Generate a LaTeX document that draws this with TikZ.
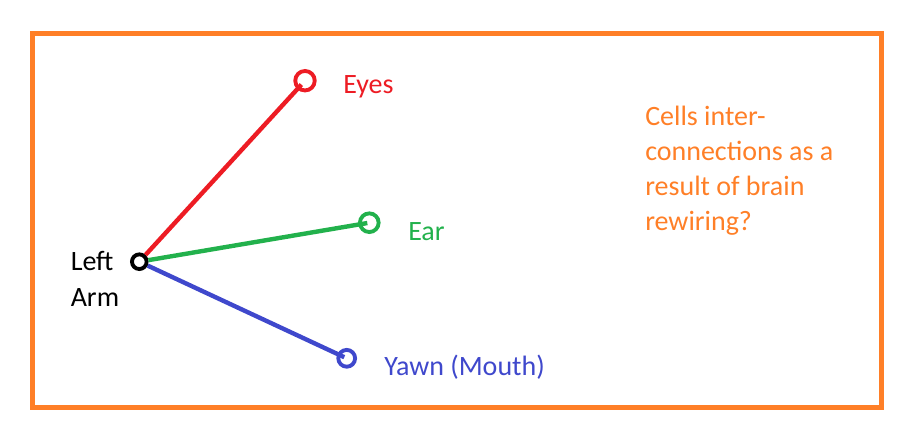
\documentclass[tikz,border=0pt]{standalone}
\usepackage{fontspec}
\setmainfont{Carlito}
\definecolor{frameor}{HTML}{FF7F27}
\definecolor{pred}{HTML}{ED1C24}
\definecolor{pgreen}{HTML}{22B14C}
\definecolor{pblue}{HTML}{3F48CC}
\tikzset{
  px/.style={x=0.75pt,y=-0.75pt},
  ring/.style={circle,draw,inner sep=0pt,line width=2.9pt},
  link/.style={line width=3.3pt},
  lbl/.style={inner sep=0pt,anchor=base west,font=\fontsize{21pt}{26pt}\selectfont},
}
\begin{document}
\begin{tikzpicture}[px]
\useasboundingbox (0,0) rectangle (910,436);
\node[draw=frameor,line width=3.75pt,inner sep=0pt,minimum width=849*0.75pt,minimum height=374.5*0.75pt,anchor=north west] (frame) at (29.5,30.5) {};
\node[ring,draw=pred,minimum size=14.6pt] (eyes) at (305,80.7) {};
\node[ring,draw=pgreen,minimum size=14pt] (ear) at (369.3,222.7) {};
\node[ring,draw=pblue,minimum size=12.6pt] (yawn) at (346.7,358.3) {};
\node[ring,draw=black,minimum size=11pt] (la) at (139.3,261.7) {};
\draw[link,pred,shorten >=4pt] (la) -- (eyes.center);
\draw[link,pgreen,shorten >=1.5pt] (la) -- (ear.center);
\draw[link,pblue,shorten >=2pt] (la) -- (yawn.center);
\node[lbl,text=pred] (teyes) at (343,93) {Eyes};
\node[lbl,text=pgreen] (tear) at (408,240.7) {Ear};
\node[lbl,text=pblue] (tyawn) at (384,375) {Yawn (Mouth)};
\node[lbl,text=black] (tla) at (70.5,270) {\parbox[t]{3cm}{\raggedright\fontsize{21pt}{27pt}\selectfont Left\\Arm}};
\node[lbl,text=frameor] (tq) at (645,125) {\parbox[t]{6cm}{\raggedright\fontsize{21pt}{26.25pt}\selectfont Cells inter-\\connections as a\\result of brain\\rewiring?}};
\end{tikzpicture}
\end{document}
